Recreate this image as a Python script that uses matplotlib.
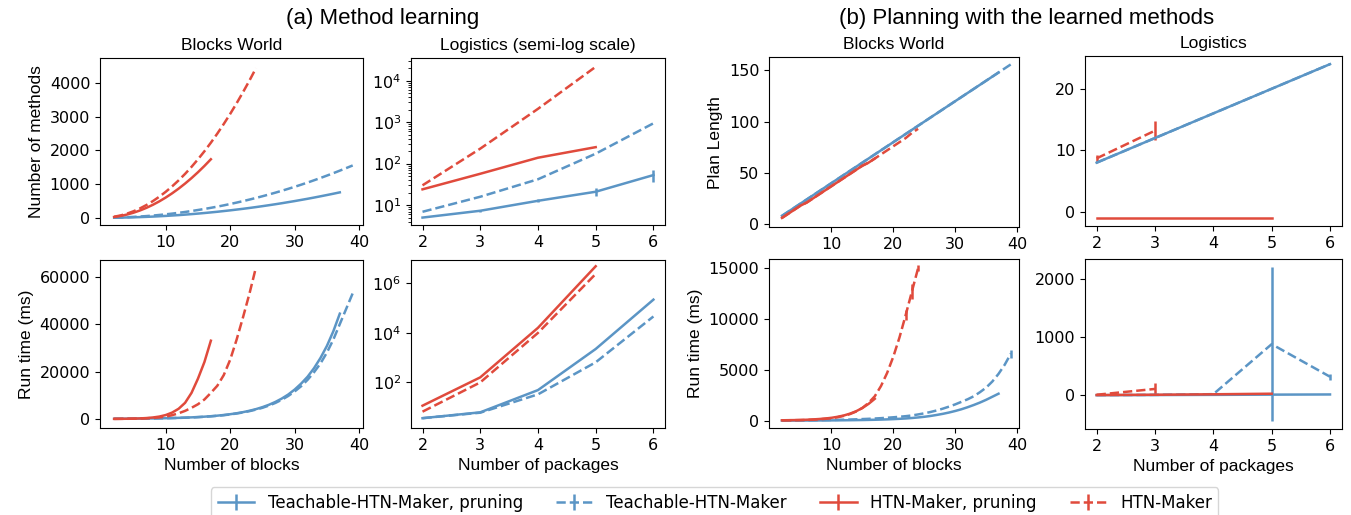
import matplotlib
matplotlib.use('Agg')
import matplotlib.pyplot as plt
import matplotlib.ticker as mticker

BLUE = '#5b95c5'
RED = '#e04a3c'
LBL = ['Teachable-HTN-Maker, pruning', 'Teachable-HTN-Maker', 'HTN-Maker, pruning', 'HTN-Maker']

# ---- (a) method learning, blocks world ----
bw_x_tp = list(range(2, 38))
bw_x_t = list(range(2, 40))
bw_x_hp = list(range(2, 18))
bw_x_h = list(range(2, 25))

bw_methods_tp = [2, 5, 9, 14, 20, 27, 35, 45, 55, 67, 79, 93, 108, 124, 141, 159, 178, 199, 220, 243, 266, 291,
                 317, 344, 372, 401, 431, 463, 495, 529, 563, 599, 636, 674, 713, 753]
bw_methods_t = [4, 9, 16, 26, 37, 50, 65, 83, 102, 123, 147, 172, 200, 230, 261, 295, 330, 368, 408, 450, 494,
                540, 588, 638, 690, 744, 800, 858, 918, 980, 1044, 1111, 1179, 1250, 1322, 1397, 1473, 1551]
bw_methods_hp = [24, 54, 96, 150, 216, 294, 384, 486, 600, 726, 864, 1014, 1176, 1350, 1536, 1734]
bw_methods_h = [31, 69, 123, 193, 277, 377, 493, 624, 770, 932, 1109, 1301, 1509, 1733, 1971, 2225, 2495, 2780,
                3080, 3396, 3727, 4073, 4435]

bw_ltime_tp = [75, 90, 108, 130, 155, 185, 225, 270, 320, 390, 465, 560, 670, 805, 965, 1160, 1390, 1670, 2000,
               2400, 2880, 3460, 4150, 4980, 5970, 7170, 8600, 10300, 12400, 14900, 17800, 21400, 25700, 30800,
               37000, 44400]
bw_ltime_t = [70, 85, 100, 120, 145, 175, 210, 255, 305, 370, 440, 530, 635, 760, 915, 1100, 1320, 1580, 1900,
              2300, 2750, 3300, 3950, 4700, 5650, 6750, 8100, 9700, 11600, 13800, 16500, 19700, 23400, 28000,
              33500, 40000, 46500, 53000]
bw_ltime_hp = [35, 55, 90, 140, 230, 380, 620, 1000, 1650, 2700, 4300, 6800, 11000, 17000, 24000, 33000]
bw_ltime_h = [30, 45, 70, 110, 170, 270, 420, 650, 1000, 1600, 2400, 3400, 4700, 6200, 8200, 11000, 14000,
              18500, 25000, 33500, 43000, 53000, 64000]

# ---- (a) method learning, logistics ----
lg_x_t = [2, 3, 4, 5, 6]
lg_x_h = [2, 3, 4, 5]
lg_methods_tp = [5, 7.3, 12.7, 21, 53]
lg_methods_tp_err = [0, 0.4, 1.0, 4.5, 16]
lg_methods_t = [6.9, 15.9, 42, 174, 940]
lg_methods_hp = [24, 57, 139, 250]
lg_methods_h = [30, 230, 2100, 21700]

lg_ltime_tp = [3.6, 6.2, 49, 2240, 220000]
lg_ltime_t = [3.6, 6.0, 33, 650, 46000]
lg_ltime_hp = [11.5, 160, 16000, 4.9e6]
lg_ltime_h = [6.6, 100, 10000, 2.4e6]

# ---- (b) planning, blocks world ----
bw_plen_tp = [8, 12, 16, 20, 24, 28, 32, 36, 40, 44, 48, 52, 56, 60, 64, 68, 72, 76, 80, 84, 88, 92, 96, 100,
              104, 108, 112, 116, 120, 124, 128, 132, 136, 140, 144, 148]
bw_plen_t = [8, 12, 16, 20, 24, 28, 32, 36, 40, 44, 48, 52, 56, 60, 64, 68, 72, 76, 80, 84, 88, 92, 96, 100,
             104, 108, 112, 116, 120, 124, 128, 132, 136, 140, 144, 148, 152, 156]
bw_plen_hp = [6, 10, 14, 18, 21, 25, 29, 33, 37, 41, 45, 49, 53, 57, 60, 64]
bw_plen_h = [6, 10, 14, 18, 21, 25, 29, 33, 37, 41, 45, 49, 53, 57, 60, 64, 68, 72, 76, 80, 84, 89, 93]

bw_ptime_tp = [5, 7, 9, 11, 13, 16, 19, 22, 26, 31, 37, 44, 52, 62, 74, 88, 105, 125, 150, 180, 215, 260, 315,
               380, 460, 560, 670, 800, 950, 1120, 1320, 1540, 1780, 2050, 2350, 2650]
bw_ptime_t = [17, 20, 25, 30, 36, 42, 50, 58, 68, 80, 95, 110, 130, 155, 180, 210, 245, 285, 330, 380, 440, 510,
              610, 720, 850, 1000, 1180, 1380, 1600, 1850, 2100, 2400, 2800, 3250, 3850, 4600, 5500, 6600]
bw_ptime_t_err = [0] * 37 + [400]
bw_ptime_hp = [35, 45, 55, 70, 90, 120, 160, 210, 280, 380, 510, 690, 930, 1250, 1650, 2150]
bw_ptime_h = [32, 38, 45, 55, 70, 95, 130, 180, 250, 340, 470, 650, 900, 1250, 1750, 2400, 3400, 4700, 6300,
              8200, 10400, 12700, 15000]
bw_ptime_h_err = [0] * 20 + [500, 700, 300]

# ---- (b) planning, logistics ----
lg_plen_tp = [8, 12, 16, 20, 24]
lg_plen_t = [8, 12, 16, 20, 24]
lg_plen_hp = [-1, -1, -1, -1]
lg_x_h2 = [2, 3]
lg_plen_h = [8.7, 13.2]
lg_plen_h_err = [0.6, 1.6]

lg_ptime_tp = [3, 5, 8, 12, 15]
lg_ptime_t = [4, 8, 20, 880, 320]
lg_ptime_t_err = [0, 0, 5, 1330, 55]
lg_ptime_hp = [5, 10, 18, 28]
lg_ptime_h = [10, 110]
lg_ptime_h_err = [5, 100]

plt.rcParams['font.family'] = 'DejaVu Sans'
plt.rcParams['xtick.labelsize'] = 11.5
plt.rcParams['ytick.labelsize'] = 11.5

fig = plt.figure(figsize=(13.51, 5.15), dpi=100)

LAB = dict(family='Liberation Sans', fontsize=12.5)
TIT = dict(family='Liberation Sans', fontsize=12.5)


def draw(ax, series):
    hs = []
    for x, y, err, color, ls in series:
        if err is None:
            err = [0] * len(y)
        h = ax.errorbar(x, y, yerr=err, color=color, ls=ls, lw=1.8, elinewidth=1.8, capsize=0)
        hs.append(h)
    return hs


# positions (left, bottom, width, height)
ax1 = fig.add_axes([0.074, 0.563, 0.1947, 0.324])
ax2 = fig.add_axes([0.3042, 0.563, 0.188, 0.324])
ax3 = fig.add_axes([0.074, 0.169, 0.1947, 0.326])
ax4 = fig.add_axes([0.3042, 0.169, 0.188, 0.326])
ax5 = fig.add_axes([0.5692, 0.559, 0.185, 0.330])
ax6 = fig.add_axes([0.8031, 0.561, 0.190, 0.330])
ax7 = fig.add_axes([0.5692, 0.169, 0.185, 0.328])
ax8 = fig.add_axes([0.8031, 0.167, 0.190, 0.330])

handles = draw(ax1, [(bw_x_tp, bw_methods_tp, None, BLUE, '-'),
                     (bw_x_t, bw_methods_t, None, BLUE, '--'),
                     (bw_x_hp, bw_methods_hp, None, RED, '-'),
                     (bw_x_h, bw_methods_h, None, RED, '--')])
ax1.set_xlim(-0.2, 40.6)
ax1.set_ylim(-216, 4730)
ax1.set_yticks([0, 1000, 2000, 3000, 4000])
ax1.set_xticks([10, 20, 30, 40])
ax1.set_title('Blocks World', **TIT)
ax1.set_ylabel('Number of methods', **LAB)

draw(ax2, [(lg_x_t, lg_methods_tp, lg_methods_tp_err, BLUE, '-'),
           (lg_x_t, lg_methods_t, None, BLUE, '--'),
           (lg_x_h, lg_methods_hp, None, RED, '-'),
           (lg_x_h, lg_methods_h, None, RED, '--')])
ax2.set_yscale('log')
ax2.set_ylim(3.3, 35000)
ax2.set_xticks([2, 3, 4, 5, 6])
ax2.set_title('Logistics (semi-log scale)', **TIT)

draw(ax3, [(bw_x_tp, bw_ltime_tp, None, BLUE, '-'),
           (bw_x_t, bw_ltime_t, None, BLUE, '--'),
           (bw_x_hp, bw_ltime_hp, None, RED, '-'),
           (bw_x_h, bw_ltime_h, None, RED, '--')])
ax3.set_xlim(-0.2, 40.6)
ax3.set_ylim(-3800, 67000)
ax3.set_yticks([0, 20000, 40000, 60000])
ax3.set_xticks([10, 20, 30, 40])
ax3.set_ylabel('Run time (ms)', **LAB)
ax3.set_xlabel('Number of blocks', **LAB)

draw(ax4, [(lg_x_t, lg_ltime_tp, None, BLUE, '-'),
           (lg_x_t, lg_ltime_t, None, BLUE, '--'),
           (lg_x_h, lg_ltime_hp, None, RED, '-'),
           (lg_x_h, lg_ltime_h, None, RED, '--')])
ax4.set_yscale('log')
ax4.set_ylim(1.45, 8.7e6)
ax4.yaxis.set_major_locator(mticker.FixedLocator([1e2, 1e4, 1e6]))
ax4.yaxis.set_minor_locator(mticker.NullLocator())
ax4.set_xticks([2, 3, 4, 5, 6])
ax4.set_xlabel('Number of packages', **LAB)

draw(ax5, [(bw_x_tp, bw_plen_tp, None, BLUE, '-'),
           (bw_x_t, bw_plen_t, None, BLUE, '--'),
           (bw_x_hp, bw_plen_hp, None, RED, '-'),
           (bw_x_h, bw_plen_h, None, RED, '--')])
ax5.set_xlim(-0.1, 40.3)
ax5.set_ylim(-3, 163)
ax5.set_yticks([0, 50, 100, 150])
ax5.set_xticks([10, 20, 30, 40])
ax5.set_title('Blocks World', **TIT)
ax5.set_ylabel('Plan Length', **LAB)

draw(ax6, [(lg_x_t, lg_plen_tp, None, BLUE, '-'),
           (lg_x_t, lg_plen_t, None, BLUE, '--'),
           (lg_x_h, lg_plen_hp, None, RED, '-'),
           (lg_x_h2, lg_plen_h, lg_plen_h_err, RED, '--')])
ax6.set_ylim(-2.3, 25.3)
ax6.set_yticks([0, 10, 20])
ax6.set_xticks([2, 3, 4, 5, 6])
ax6.set_title('Logistics', **TIT)

draw(ax7, [(bw_x_tp, bw_ptime_tp, None, BLUE, '-'),
           (bw_x_t, bw_ptime_t, bw_ptime_t_err, BLUE, '--'),
           (bw_x_hp, bw_ptime_hp, None, RED, '-'),
           (bw_x_h, bw_ptime_h, bw_ptime_h_err, RED, '--')])
ax7.set_xlim(-0.1, 40.3)
ax7.set_ylim(-720, 15900)
ax7.set_yticks([0, 5000, 10000, 15000])
ax7.set_xticks([10, 20, 30, 40])
ax7.set_ylabel('Run time (ms)', **LAB)
ax7.set_xlabel('Number of blocks', **LAB)

draw(ax8, [(lg_x_t, lg_ptime_tp, None, BLUE, '-'),
           (lg_x_t, lg_ptime_t, lg_ptime_t_err, BLUE, '--'),
           (lg_x_h, lg_ptime_hp, None, RED, '-'),
           (lg_x_h2, lg_ptime_h, lg_ptime_h_err, RED, '--')])
ax8.set_ylim(-579, 2344)
ax8.set_yticks([0, 1000, 2000])
ax8.set_xticks([2, 3, 4, 5, 6])
ax8.set_xlabel('Number of packages', **LAB)

fig.text(0.283, 0.965, '(a) Method learning', ha='center', va='center', family='Liberation Sans', fontsize=16)
fig.text(0.760, 0.965, '(b) Planning with the learned methods', ha='center', va='center',
         family='Liberation Sans', fontsize=16)

fig.legend(handles, LBL, loc='upper center', bbox_to_anchor=(0.529, 0.054), ncol=4, fontsize=12,
           frameon=True, borderaxespad=0, handlelength=2.2)

plt.savefig('out.png', dpi=100)
